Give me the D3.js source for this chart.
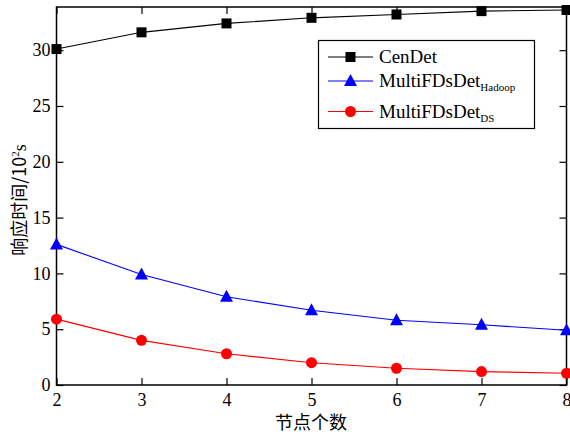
<!DOCTYPE html>
<html><head><meta charset="utf-8">
<script src="https://cdn.jsdelivr.net/npm/d3@7"></script>
<style>body{margin:0;background:#fff}svg{display:block}</style>
</head><body>
<svg id="c" width="570" height="438"></svg>
<script>
const nodes = [2, 3, 4, 5, 6, 7, 8];
const cenDet = [30.1, 31.6, 32.4, 32.9, 33.2, 33.5, 33.6];
const hadoop = [12.6, 9.9, 7.9, 6.7, 5.8, 5.4, 4.9];
const ds = [5.9, 4.0, 2.8, 2.0, 1.5, 1.2, 1.05];
const xTicks = [2, 3, 4, 5, 6, 7, 8];
const yTicks = [0, 5, 10, 15, 20, 25, 30];

const svg = d3.select("#c");
const L = 56.5, R = 566.5, T = 7, B = 385;
const x = d3.scaleLinear().domain([2, 8]).range([L, R]);
const y = d3.scaleLinear().domain([0, 33.87]).range([B, T]);
const serif = "'Liberation Serif', 'DejaVu Serif', serif";

// axes with inward ticks
const axB = svg.append("g").attr("transform", `translate(0,${B})`)
  .call(d3.axisBottom(x).tickValues(xTicks).tickSize(-7).tickPadding(8).tickFormat(d3.format("d")));
const axT = svg.append("g").attr("transform", `translate(0,${T})`)
  .call(d3.axisTop(x).tickValues(xTicks).tickSize(-7).tickFormat(""));
const axLf = svg.append("g").attr("transform", `translate(${L},0)`)
  .call(d3.axisLeft(y).tickValues(yTicks).tickSize(-7).tickPadding(6).tickFormat(d3.format("d")));
const axRt = svg.append("g").attr("transform", `translate(${R},0)`)
  .call(d3.axisRight(y).tickValues(yTicks).tickSize(-7).tickFormat(""));
[axB, axT, axLf, axRt].forEach(a => {
  a.select(".domain").remove();
  a.selectAll(".tick line").attr("stroke", "#000").attr("stroke-width", 1.2);
  a.selectAll("text").attr("font-family", serif).attr("font-size", 18).attr("fill", "#000");
});
svg.append("rect").attr("x", L).attr("y", T).attr("width", R - L).attr("height", B - T)
  .attr("fill", "none").attr("stroke", "#000").attr("stroke-width", 1.5);

const series = [
  {name: "CenDet", sub: "", vals: cenDet, color: "#000", shape: "square"},
  {name: "MultiFDsDet", sub: "Hadoop", vals: hadoop, color: "#0000ff", shape: "triangle"},
  {name: "MultiFDsDet", sub: "DS", vals: ds, color: "#ff0000", shape: "circle"}
];
function marker(g, shape, color, cx, cy) {
  if (shape === "square") g.append("rect").attr("x", cx - 5).attr("y", cy - 5).attr("width", 10).attr("height", 10).attr("fill", color);
  else if (shape === "triangle") g.append("path").attr("d", `M${cx},${cy - 7}L${cx + 6.5},${cy + 5}L${cx - 6.5},${cy + 5}Z`).attr("fill", color);
  else g.append("circle").attr("cx", cx).attr("cy", cy).attr("r", 5.5).attr("fill", color);
}
const line = d3.line().x((d, i) => x(nodes[i])).y(d => y(d));
series.forEach(s => {
  svg.append("path").attr("d", line(s.vals)).attr("fill", "none").attr("stroke", s.color).attr("stroke-width", 1.1);
  const g = svg.append("g");
  s.vals.forEach((v, i) => marker(g, s.shape, s.color, x(nodes[i]), y(v)));
});

// legend
const lg = svg.append("g");
lg.append("rect").attr("x", 318.5).attr("y", 40.5).attr("width", 216).attr("height", 88)
  .attr("fill", "#fff").attr("stroke", "#000").attr("stroke-width", 1.2);
const rows = [57, 81, 111.5];
series.forEach((s, i) => {
  const ry = rows[i];
  lg.append("line").attr("x1", 328).attr("x2", 373).attr("y1", ry).attr("y2", ry).attr("stroke", s.color).attr("stroke-width", 1.1);
  marker(lg, s.shape, s.color, 350.5, ry);
  const t = lg.append("text").attr("x", 379).attr("y", ry + 6).attr("font-family", serif).attr("font-size", 19).attr("fill", "#000");
  t.append("tspan").text(s.name);
  if (s.sub) t.append("tspan").attr("font-size", 11).attr("dy", 4).text(s.sub);
});

// axis titles
svg.append("text").attr("x", 311).attr("y", 429).attr("text-anchor", "middle")
  .attr("font-family", "'Noto Sans CJK SC', sans-serif").attr("font-size", 18).attr("fill", "#000").text("节点个数");
const yl = svg.append("text").attr("transform", "translate(26,200) rotate(-90)").attr("text-anchor", "middle")
  .attr("font-family", "'Noto Sans CJK SC', sans-serif").attr("font-size", 18).attr("fill", "#000");
yl.append("tspan").text("响应时间/10");
yl.append("tspan").attr("font-size", 11).attr("dy", -7).attr("font-family", serif).text("2");
yl.append("tspan").attr("dy", 7).attr("font-family", serif).text("s");
</script>
</body></html>
